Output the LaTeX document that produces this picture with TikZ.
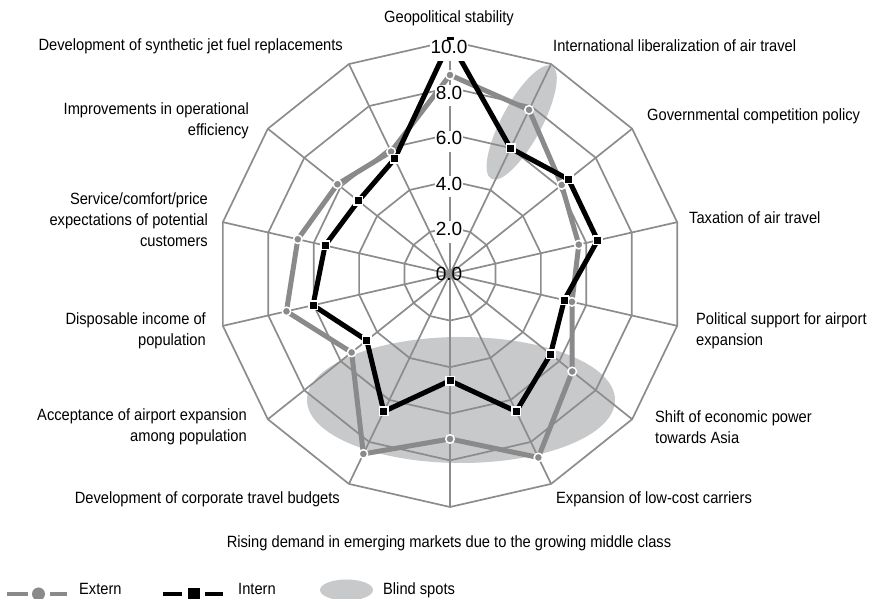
\documentclass[tikz,border=0pt]{standalone}
\usepackage{fontspec}
\setmainfont{Liberation Sans}[FakeStretch=0.9]
\newfontfamily\valfont{Liberation Sans}
\definecolor{gridgray}{HTML}{8C8C8C}
\definecolor{extgray}{HTML}{8A8A8A}
\definecolor{blindgray}{HTML}{C8C9CB}
\begin{document}
\begin{tikzpicture}[x=1pt,y=1pt,
  gridline/.style={draw=gridgray,line width=1.7pt},
  extline/.style={draw=extgray,line width=5pt,line join=round},
  intline/.style={draw=black,line width=5pt,line join=round},
  extmark/.style={circle,fill=extgray,draw=white,line width=1.5pt,minimum size=8.5pt,inner sep=0pt},
  intmark/.style={rectangle,fill=black,draw=white,line width=1.5pt,minimum size=8.5pt,inner sep=0pt},
  blind/.style={fill=blindgray},
  scalelabel/.style={font=\valfont\fontsize{19}{22}\selectfont,fill=white,inner xsep=1pt,inner ysep=1pt,text depth=6pt,anchor=base},
  catlabel/.style={font=\fontsize{16.3}{21}\selectfont,inner sep=0pt},
]
\useasboundingbox (0,0) rectangle (876,599);

% blind spots
\fill[blind] (461,199) ellipse [x radius=154, y radius=63];
\fill[blind,rotate around={61.7:(521.7,476.5)}] (521.7,476.5) ellipse [x radius=64, y radius=20];

\begin{scope}[shift={(450,325)}]
  % grid rings and spokes
  \foreach \r in {2,4,...,10}
    \draw[gridline] (90:\r*23.3) \foreach \k in {1,...,13} { -- (90-\k*360/14:\r*23.3) } -- cycle;
  \foreach \k in {0,...,13}
    \draw[gridline] (0,0) -- (90-\k*360/14:233);
  \draw[draw=gridgray,line width=2.6pt] (0,0) -- (90:233);

  % data points
  \foreach \v [count=\k from 0] in {8.54,7.82,6.13,5.67,5.37,6.71,8.74,7.08,8.57,5.40,7.20,6.70,6.18,5.83}
    \coordinate (e\k) at (90-\k*360/14:\v*23.3);
  \foreach \v [count=\k from 0] in {10.0,5.99,6.51,6.50,5.03,5.52,6.55,4.58,6.55,4.57,6.03,5.50,5.03,5.48}
    \coordinate (i\k) at (90-\k*360/14:\v*23.3);

  \draw[extline] (e0) -- (e1) -- (e2) -- (e3) -- (e4) -- (e5) -- (e6) -- (e7)
    -- (e8) -- (e9) -- (e10) -- (e11) -- (e12) -- (e13) -- cycle;
  \draw[intline] (i0) -- (i1) -- (i2) -- (i3) -- (i4) -- (i5) -- (i6) -- (i7)
    -- (i8) -- (i9) -- (i10) -- (i11) -- (i12) -- (i13) -- cycle;
  \foreach \k in {0,...,13} \node[extmark] (em\k) at (e\k) {};
  \foreach \k in {0,...,13} \node[intmark] (im\k) at (i\k) {};
\end{scope}

% scale values
\node[scalelabel,fill=none] (s0) at (449,318) {0.0};
\node[scalelabel] (s2) at (449,363.4) {2.0};
\node[scalelabel] (s4) at (449,408.8) {4.0};
\node[scalelabel] (s6) at (449,454.2) {6.0};
\node[scalelabel] (s8) at (449,499.6) {8.0};
\node[scalelabel] (s10) at (449,545) {10.0};

% axis captions
\node[catlabel] (geo) at (449,581) {Geopolitical stability};
\node[catlabel,anchor=west] (intl) at (553,553) {International liberalization of air travel};
\node[catlabel,anchor=west] (gov) at (647,483) {Governmental competition policy};
\node[catlabel,anchor=west] (tax) at (689,381) {Taxation of air travel};
\node[catlabel,anchor=west,align=left] (pol) at (696,268) {Political support for airport\\expansion};
\node[catlabel,anchor=west,align=left] (shift) at (655,172) {Shift of economic power\\towards Asia};
\node[catlabel,anchor=west] (lcc) at (556,100) {Expansion of low-cost carriers};
\node[catlabel] (rise) at (449,56) {Rising demand in emerging markets due to the growing middle class};
\node[catlabel,anchor=east] (corp) at (340,100) {Development of corporate travel budgets};
\node[catlabel,anchor=east,align=right] (accept) at (247,172) {Acceptance of airport expansion\\among population};
\node[catlabel,anchor=east,align=right] (disp) at (206,268) {Disposable income of\\population};
\node[catlabel,anchor=east,align=right] (serv) at (208,379.5) {Service/comfort/price\\expectations of potential\\customers};
\node[catlabel,anchor=east,align=right] (impr) at (249,478.5) {Improvements in operational\\efficiency};
\node[catlabel,anchor=east] (synth) at (343,553) {Development of synthetic jet fuel replacements};

% legend
\draw[extgray,line width=4.5pt] (7,5) -- (28,5) (50,5) -- (67,5);
\node[circle,fill=extgray,minimum size=13pt,inner sep=0pt] (legext) at (38.5,5) {};
\node[catlabel,anchor=base west] (legexttext) at (79,4) {Extern};
\draw[black,line width=4.5pt] (163,5) -- (182,5) (205,5) -- (223,5);
\node[rectangle,fill=black,minimum size=12pt,inner sep=0pt] (legint) at (194,5) {};
\node[catlabel,anchor=base west] (leginttext) at (238,4) {Intern};
\fill[blind] (346.5,9) ellipse [x radius=26.5, y radius=10.5];
\node[catlabel,anchor=base west] (legblindtext) at (383,4) {Blind spots};
\end{tikzpicture}
\end{document}
